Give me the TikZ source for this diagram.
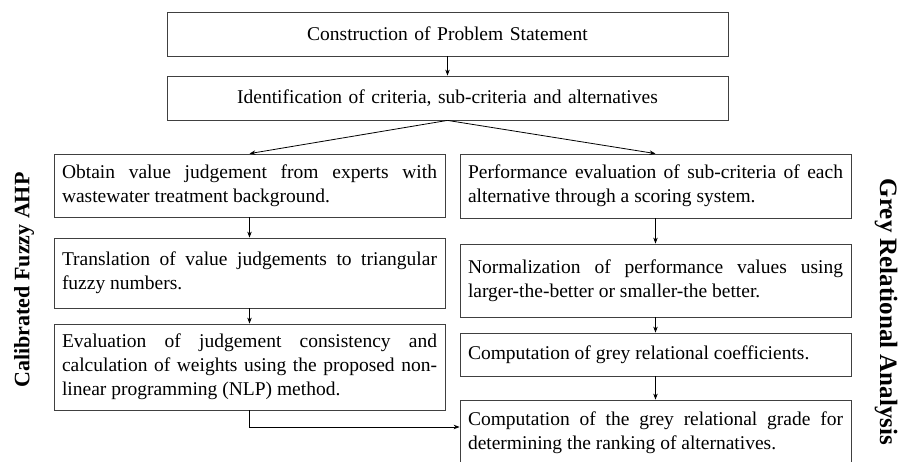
\documentclass[tikz,border=0pt]{standalone}
\usepackage{fontspec}
\setmainfont{Liberation Serif}
\usetikzlibrary{arrows.meta}
\hyphenpenalty=10000
\tolerance=9999
\emergencystretch=20pt

\tikzset{
  stepbox/.style={draw=black!75, line width=0.8pt, inner xsep=8pt, inner ysep=0pt,
    font=\fontsize{19.5}{24}\selectfont},
  headbox/.style={stepbox, text width=545pt, align=center, minimum height=44pt},
  sidebox/.style={stepbox, text width=375pt, align=justify},
  flow/.style={-{Stealth[length=6pt,width=4.5pt]}, line width=0.8pt},
  sidelabel/.style={font=\fontsize{22}{26}\selectfont\bfseries}
}

\begin{document}
\begin{tikzpicture}[x=1pt, y=-1pt]
  \useasboundingbox (0,0) rectangle (898,462);

  % top of the flow
  \node[headbox] (prob) at (447.5,34) {Construction of Problem Statement};
  \node[headbox] (crit) at (447.5,98) {Identification of criteria, sub-criteria and alternatives};

  % calibrated fuzzy AHP
  \node[sidebox, minimum height=63pt] (ahp1) at (249.5,185.5)
    {Obtain value judgement from experts with wastewater treatment background.};
  \node[sidebox, minimum height=70pt] (ahp2) at (249.5,273)
    {Translation of value judgements to triangular fuzzy numbers.};
  \node[sidebox, minimum height=86pt] (ahp3) at (249.5,367)
    {Evaluation of judgement consistency and calculation of weights using the proposed non-linear programming (NLP) method.};

  % grey relational analysis
  \node[sidebox, minimum height=64pt] (gra1) at (655.5,186)
    {Performance evaluation of sub-criteria of each alternative through a scoring system.};
  \node[sidebox, minimum height=73pt] (gra2) at (655.5,280.5)
    {Normalization of performance values using larger-the-better or smaller-the better.};
  \node[sidebox, minimum height=43pt] (gra3) at (655.5,354.5)
    {Computation of grey relational coefficients.};
  \node[sidebox, minimum height=66pt] (gra4) at (655.5,433)
    {Computation of the grey relational grade for determining the ranking of alternatives.};

  % side titles
  \node[sidelabel, rotate=90] (ahptitle) at (24,280) {Calibrated Fuzzy AHP};
  \node[sidelabel, font=\fontsize{25}{30}\selectfont\bfseries, rotate=-90] (gratitle) at (886,312) {Grey Relational Analysis};

  \draw[flow] (prob) -- (crit);
  \draw[flow] (crit.south) -- (ahp1.north);
  \draw[flow] (crit.south) -- (gra1.north);
  \draw[flow] (ahp1) -- (ahp2);
  \draw[flow] (ahp2) -- (ahp3);
  \draw[flow] (gra1) -- (gra2);
  \draw[flow] (gra2) -- (gra3);
  \draw[flow] (gra3) -- (gra4);
  \draw[flow] (ahp3.south) |- ([yshift=6pt]gra4.west);
\end{tikzpicture}
\end{document}
